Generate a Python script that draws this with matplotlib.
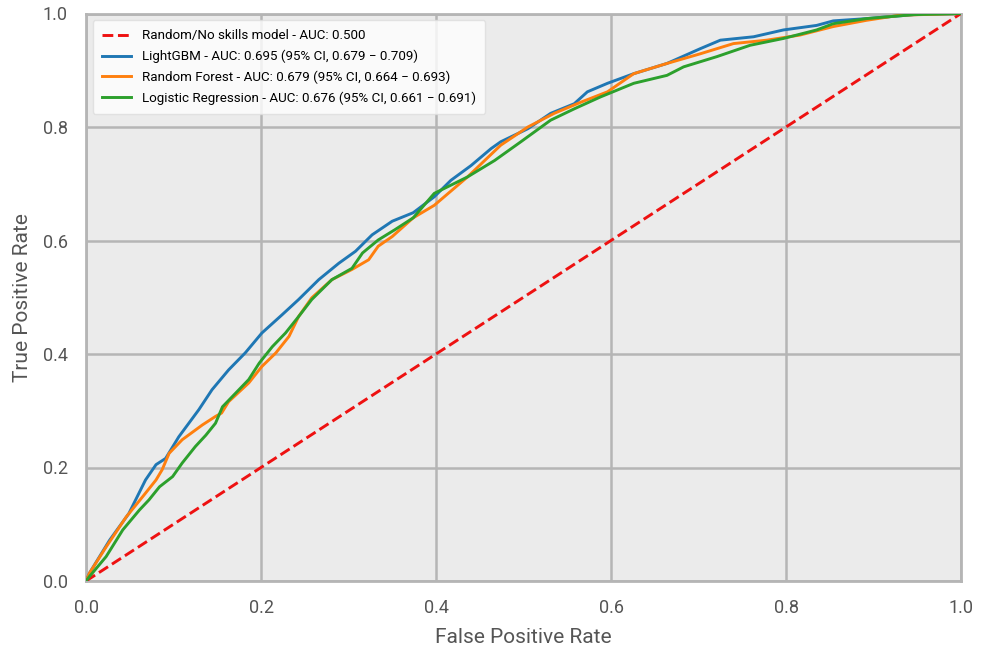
import matplotlib
matplotlib.use("Agg")
import matplotlib.pyplot as plt

plt.rcParams['font.family'] = ['Roboto', 'DejaVu Sans']

# Random / no skill
rand_fpr = [0.0, 1.0]
rand_tpr = [0.0, 1.0]

lgbm_fpr = [0.0, 0.004, 0.027, 0.049, 0.068, 0.080, 0.091, 0.106, 0.129, 0.144, 0.163, 0.182,
            0.201, 0.224, 0.243, 0.266, 0.289, 0.308, 0.327, 0.350, 0.374, 0.398, 0.417, 0.440,
            0.463, 0.474, 0.505, 0.531, 0.558, 0.573, 0.596, 0.626, 0.664, 0.702, 0.725, 0.763,
            0.797, 0.835, 0.854, 0.892, 0.946, 1.0]
lgbm_tpr = [0.0, 0.014, 0.072, 0.119, 0.178, 0.205, 0.216, 0.254, 0.302, 0.337, 0.372, 0.402,
            0.437, 0.469, 0.496, 0.531, 0.560, 0.581, 0.610, 0.634, 0.649, 0.677, 0.706, 0.732,
            0.762, 0.774, 0.797, 0.824, 0.841, 0.862, 0.877, 0.894, 0.912, 0.938, 0.953, 0.959,
            0.971, 0.979, 0.987, 0.991, 0.998, 1.0]

rf_fpr = [0.0, 0.004, 0.023, 0.046, 0.065, 0.080, 0.087, 0.095, 0.110, 0.133, 0.148, 0.155,
          0.163, 0.186, 0.201, 0.217, 0.232, 0.243, 0.258, 0.281, 0.304, 0.323, 0.334, 0.350,
          0.374, 0.398, 0.436, 0.474, 0.505, 0.535, 0.566, 0.596, 0.626, 0.664, 0.702, 0.740,
          0.778, 0.816, 0.854, 0.892, 0.930, 1.0]
rf_tpr = [0.0, 0.014, 0.060, 0.113, 0.149, 0.178, 0.196, 0.225, 0.249, 0.275, 0.290, 0.296,
          0.316, 0.349, 0.378, 0.402, 0.431, 0.466, 0.499, 0.531, 0.549, 0.566, 0.590, 0.607,
          0.640, 0.662, 0.712, 0.768, 0.800, 0.824, 0.844, 0.862, 0.894, 0.912, 0.929, 0.947,
          0.953, 0.962, 0.977, 0.988, 0.997, 1.0]

lr_fpr = [0.0, 0.004, 0.023, 0.042, 0.061, 0.072, 0.084, 0.099, 0.110, 0.125, 0.137, 0.148,
          0.156, 0.171, 0.186, 0.198, 0.213, 0.228, 0.243, 0.258, 0.281, 0.304, 0.316, 0.334,
          0.353, 0.374, 0.398, 0.436, 0.467, 0.497, 0.531, 0.558, 0.588, 0.626, 0.664, 0.683,
          0.721, 0.759, 0.797, 0.835, 0.854, 0.892, 0.946, 1.0]
lr_tpr = [0.0, 0.008, 0.043, 0.090, 0.125, 0.143, 0.166, 0.184, 0.208, 0.237, 0.257, 0.278,
          0.307, 0.331, 0.355, 0.384, 0.413, 0.437, 0.466, 0.496, 0.531, 0.551, 0.578, 0.601,
          0.619, 0.640, 0.683, 0.712, 0.741, 0.774, 0.812, 0.832, 0.853, 0.877, 0.891, 0.906,
          0.924, 0.944, 0.956, 0.971, 0.982, 0.991, 0.998, 1.0]

labels = [
    "Random/No skills model - AUC: 0.500",
    "LightGBM - AUC: 0.695 (95% CI, 0.679 \u2212 0.709)",
    "Random Forest - AUC: 0.679 (95% CI, 0.664 \u2212 0.693)",
    "Logistic Regression - AUC: 0.676 (95% CI, 0.661 \u2212 0.691)",
]

fig = plt.figure(figsize=(9.88, 6.47), dpi=100)
ax = fig.add_axes([86/988, 1 - 581/647, 875/988, 567.5/647])
ax.set_facecolor('#EBEBEB')

ax.plot(rand_fpr, rand_tpr, linestyle='--', color='#EE1111', lw=2.1, label=labels[0], zorder=3)
ax.plot(lgbm_fpr, lgbm_tpr, color='#1F77B4', lw=2.1, label=labels[1], zorder=3)
ax.plot(rf_fpr, rf_tpr, color='#FF7F0E', lw=2.1, label=labels[2], zorder=3)
ax.plot(lr_fpr, lr_tpr, color='#2CA02C', lw=2.1, label=labels[3], zorder=3)

ax.set_xlim(0, 1)
ax.set_ylim(0, 1)
ax.set_xticks([0, 0.2, 0.4, 0.6, 0.8, 1.0])
ax.set_yticks([0, 0.2, 0.4, 0.6, 0.8, 1.0])
ax.grid(True, color='#B5B5B5', lw=1.8)
ax.set_axisbelow(True)
for s in ax.spines.values():
    s.set_color('#B5B5B5')
    s.set_linewidth(2)
ax.tick_params(axis='x', length=0, labelsize=13, colors='#555555', pad=13)
ax.tick_params(axis='y', length=0, labelsize=13, colors='#555555', pad=13)
ax.set_xlabel('False Positive Rate', fontsize=15, color='#555555', labelpad=8)
ax.set_ylabel('True Positive Rate', fontsize=15, color='#555555', labelpad=8)

leg = ax.legend(loc='upper left', fontsize=9.6, frameon=True, framealpha=0.8,
                facecolor='white', edgecolor='#DDDDDD', handlelength=2.2,
                borderpad=0.7, labelspacing=0.55)

fig.savefig('out.png', dpi=100)
